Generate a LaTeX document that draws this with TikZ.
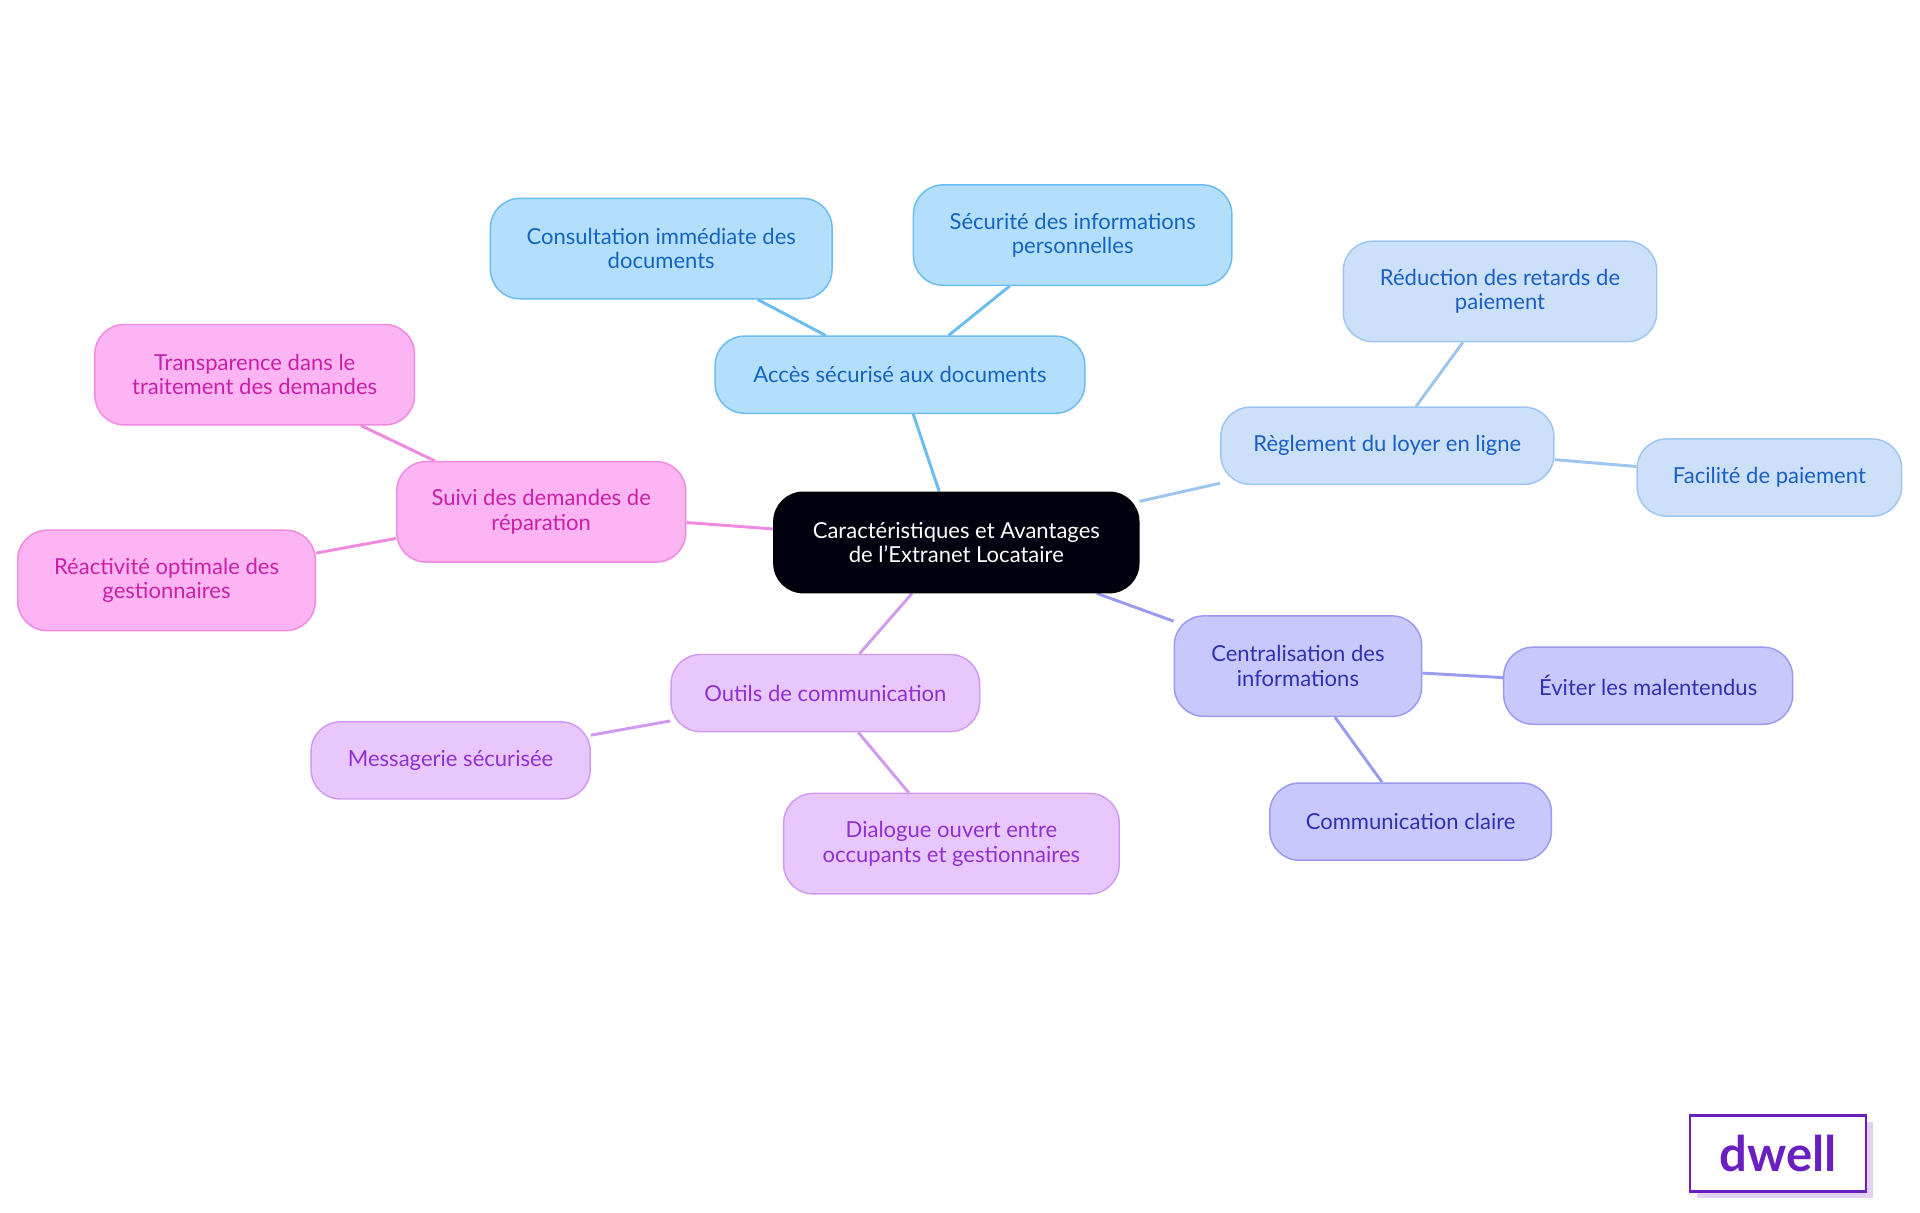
\documentclass[tikz,border=0pt]{standalone}
\usepackage{fontspec}
\setmainfont{Lato}
\usetikzlibrary{backgrounds}
\definecolor{cA}{HTML}{B3DFFC}\definecolor{sA}{HTML}{6CBCEF}\definecolor{tA}{HTML}{1565C0}
\definecolor{cR}{HTML}{CCE0FA}\definecolor{sR}{HTML}{9EC5F0}\definecolor{tR}{HTML}{1A5FC4}
\definecolor{cC}{HTML}{C8C8FC}\definecolor{sC}{HTML}{9A9AF0}\definecolor{tC}{HTML}{3030B0}
\definecolor{cO}{HTML}{E8C8FC}\definecolor{sO}{HTML}{D09AF0}\definecolor{tO}{HTML}{9030D0}
\definecolor{cS}{HTML}{FDB4F2}\definecolor{sS}{HTML}{F08AE0}\definecolor{tS}{HTML}{C820A8}
\definecolor{logo}{HTML}{6A1FC0}
\tikzset{
 box/.style={rounded corners=12pt,align=center,font=\fontsize{9}{10}\selectfont,inner sep=0pt,line width=0.6pt},
 bA/.style={box,fill=cA,draw=sA,text=tA},
 bR/.style={box,fill=cR,draw=sR,text=tR},
 bC/.style={box,fill=cC,draw=sC,text=tC},
 bO/.style={box,fill=cO,draw=sO,text=tO},
 bS/.style={box,fill=cS,draw=sS,text=tS},
 e/.style={line width=1.2pt}
}
\newcommand{\nb}[6]{\node[#1,minimum width=#4*0.5pt,minimum height=#5*0.5pt] (#6) at (#2,#3) }
\begin{document}
\begin{tikzpicture}[x=0.5pt,y=-0.5pt]
\useasboundingbox (0,0) rectangle (1568,990);
\nb{box,fill=black!85!blue!40!black,draw=black,text=white}{781}{443}{298}{82}{M}{Caractéristiques et Avantages\\de l'Extranet Locataire};
\nb{bA}{735}{306}{302}{63}{A}{Accès sécurisé aux documents};
\nb{bA}{540}{203}{279}{82}{A1}{Consultation immédiate des\\documents};
\nb{bA}{876}{192}{260}{82}{A2}{Sécurité des informations\\personnelles};
\nb{bR}{1133}{364}{272}{63}{R}{Règlement du loyer en ligne};
\nb{bR}{1225}{238}{256}{82}{R1}{Réduction des retards de\\paiement};
\nb{bR}{1445}{390}{216}{63}{R2}{Facilité de paiement};
\nb{bC}{1060}{544}{202}{82}{C}{Centralisation des\\informations};
\nb{bC}{1346}{560}{236}{63}{C1}{Éviter les malentendus};
\nb{bC}{1152}{671}{230}{63}{C2}{Communication claire};
\nb{bO}{674}{566}{252}{63}{O}{Outils de communication};
\nb{bO}{368}{621}{228}{63}{O1}{Messagerie sécurisée};
\nb{bO}{777}{689}{274}{82}{O2}{Dialogue ouvert entre\\occupants et gestionnaires};
\nb{bS}{442}{418}{236}{82}{S}{Suivi des demandes de\\réparation};
\nb{bS}{208}{306}{261}{82}{S1}{Transparence dans le\\traitement des demandes};
\nb{bS}{136}{474}{243}{82}{S2}{Réactivité optimale des\\gestionnaires};
\begin{scope}[on background layer]
\draw[e,sA] (M)--(A) (A)--(A1) (A)--(A2);
\draw[e,sR] (M)--(R) (R)--(R1) (R)--(R2);
\draw[e,sC] (M)--(C) (C)--(C1) (C)--(C2);
\draw[e,sO] (M)--(O) (O)--(O1) (O)--(O2);
\draw[e,sS] (M)--(S) (S)--(S1) (S)--(S2);
\end{scope}
\fill[logo!20] (1386,916) rectangle (1530,978);
\node[draw=logo,line width=1pt,fill=white,minimum width=72pt,minimum height=31pt,inner sep=0pt,text=logo,font=\fontsize{20}{20}\selectfont\bfseries] (L) at (1452,942) {dwell};
\end{tikzpicture}
\end{document}
